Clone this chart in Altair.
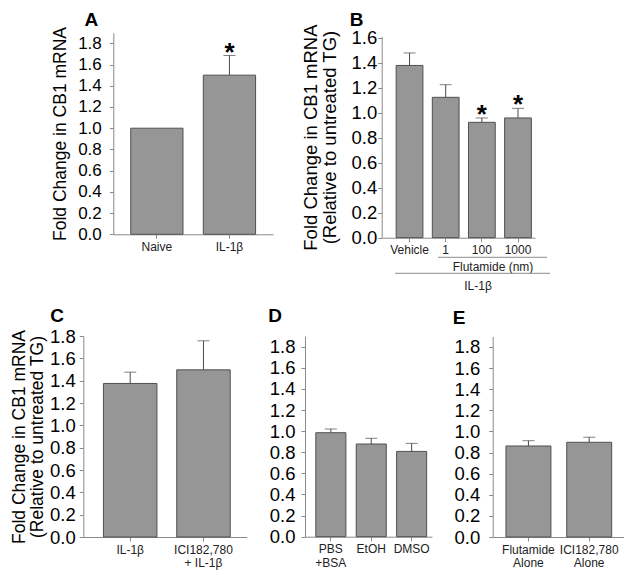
import altair as alt
import numpy as np
import pandas as pd

FONT = "Liberation Sans"

# ---------------- data ----------------
a_cats = ["Naive", "IL-1β"]
a_vals = [1.00, 1.50]
a_errs = [np.nan, 1.685]
a_sig = ["", "*"]

b_cats = ["Vehicle", "1", "100", "1000"]
b_vals = [1.378, 1.123, 0.923, 0.958]
b_errs = [1.478, 1.224, 0.958, 1.035]
b_sig = ["", "", "*", "*"]

c_cats = ["IL-1β", "ICI182,780\n+ IL-1β"]
c_vals = [1.375, 1.497]
c_errs = [1.476, 1.757]
c_sig = ["", ""]

d_cats = ["PBS\n+BSA", "EtOH", "DMSO"]
d_vals = [0.985, 0.878, 0.808]
d_errs = [1.020, 0.932, 0.884]
d_sig = ["", "", ""]

e_cats = ["Flutamide\nAlone", "ICI182,780\nAlone"]
e_vals = [0.862, 0.897]
e_errs = [0.912, 0.945]
e_sig = ["", ""]

ticks_18 = [0.0, 0.2, 0.4, 0.6, 0.8, 1.0, 1.2, 1.4, 1.6, 1.8]
ticks_16 = [0.0, 0.2, 0.4, 0.6, 0.8, 1.0, 1.2, 1.4, 1.6]

title_one = "Fold Change in CB1 mRNA"
title_two = ["Fold Change in CB1 mRNA", "(Relative to untreated TG)"]

W, H = 616, 563

BAR_FILL = "#969696"
BAR_STROKE = "#505050"
ERR_COL = "#4a4a4a"


def panel(cats, vals, errs, sigs, xr, pi, po, al, yd, yr, yvals, ytitle, tpad,
          xoff, yoff, lfs, tfs, lpad, tlh):
    df = pd.DataFrame({"cat": cats, "val": vals, "err": errs, "sig": sigs})
    xs = alt.Scale(domain=cats, range=xr, paddingInner=pi, paddingOuter=po, align=al)
    ys = alt.Scale(domain=yd, range=yr, nice=False, zero=False)
    xax = alt.Axis(orient="bottom", offset=xoff, title=None, labelAngle=0,
                   labelExpr="split(datum.label, '\\n')", labelFontSize=12,
                   labelPadding=3, tickSize=4, labelLineHeight=13.5,
                   labelColor="#222222", grid=False)
    yax = alt.Axis(orient="left", offset=yoff, values=yvals, format=".1f",
                   title=ytitle, titlePadding=tpad, labelFontSize=lfs, tickSize=4,
                   labelPadding=lpad, grid=False, labelOverlap=False,
                   titleFontSize=tfs, titleLineHeight=tlh)
    base = alt.Chart(df)
    bars = base.mark_bar(fill=BAR_FILL, stroke=BAR_STROKE, strokeWidth=1).encode(
        x=alt.X("cat:N", scale=xs, axis=xax, sort=cats),
        y=alt.Y("val:Q", scale=ys, axis=yax),
    )
    eb = base.transform_filter("isValid(datum.err)")
    stem = eb.mark_rule(color=ERR_COL, strokeWidth=1).encode(
        x=alt.X("cat:N", sort=cats),
        y=alt.Y("val:Q"),
        y2="err:Q",
    )
    cap = eb.mark_tick(color=ERR_COL, thickness=1, size=12, orient="horizontal").encode(
        x=alt.X("cat:N", sort=cats),
        y=alt.Y("err:Q"),
    )
    star = eb.mark_text(font=FONT, fontSize=26, fontWeight="bold", color="black",
                        baseline="alphabetic", dy=5).encode(
        x=alt.X("cat:N", sort=cats),
        y=alt.Y("err:Q"),
        text="sig:N",
    )
    return alt.layer(bars, stem, cap, star)


pA = panel(a_cats, a_vals, a_errs, a_sig, [105.3, 265], 0.28, 0.24, 0.5,
           [0, 1.9], [226.3, 24.7], ticks_18, title_one, 8, 226.3 - H, -105.3,
           17, 17.5, 8, 19)
pB = panel(b_cats, b_vals, b_errs, b_sig, [373.7, 527], 0.26, 0.25, 0.8,
           [0, 1.61], [229.7, 28.45], ticks_16, title_two, 11, 229.7 - H, -373.7,
           18.5, 18.5, 1, 19)
pC = panel(c_cats, c_vals, c_errs, c_sig, [75.3, 238.7], 0.27, 0.25, 0.55,
           [0, 1.8], [529, 328], ticks_18, title_two, 3, 529 - H, -75.3,
           18.5, 17.5, 4, 18)
pD = panel(d_cats, d_vals, d_errs, d_sig, [297, 424], 0.256, 0.2, 0.67,
           [0, 1.9], [528.7, 328.1], ticks_18, None, 6, 528.7 - H, -297,
           18.5, 18.5, 6, 19)
pE = panel(e_cats, e_vals, e_errs, e_sig, [484.7, 622], 0.26, 0.26, 0.42,
           [0, 1.9], [529, 328.4], ticks_18, None, 6, 529 - H, -484.7,
           18.5, 18.5, 9, 19)

one = alt.Data(values=[{}])


def letter(t, x, y):
    return alt.Chart(pd.DataFrame({"t": [t]})).mark_text(
        font=FONT, fontSize=19, fontWeight="bold", color="black",
        align="center", baseline="alphabetic").encode(
        text="t:N", x=alt.value(x), y=alt.value(y))


def hline(x1, x2, y):
    return alt.Chart(one).mark_rule(color="#8c8c8c", strokeWidth=1).encode(
        x=alt.value(x1), x2=alt.value(x2), y=alt.value(y))


def label(t, x, y):
    return alt.Chart(pd.DataFrame({"t": [t]})).mark_text(
        font=FONT, fontSize=12, color="#222222", align="center",
        baseline="middle").encode(text="t:N", x=alt.value(x), y=alt.value(y))


annots = [
    letter("A", 83.3, 17.5),
    letter("B", 348.7, 17.5),
    letter("C", 49, 314.3),
    letter("D", 267, 314),
    letter("E", 451, 316),
    hline(430, 539, 249.3),
    label("Flutamide (nm)", 485, 258.7),
    hline(387, 542, 265.3),
    label("IL-1β", 470, 277.7),
]

chart = alt.layer(pA, pB, pC, pD, pE, *annots).resolve_scale(
    x="independent", y="independent"
).properties(
    width=W, height=H, padding=0, autosize=alt.AutoSizeParams(type="none")
).configure_view(stroke=None).configure_axis(
    domainColor="#8a8a8a", tickColor="#8a8a8a", domainWidth=1, tickWidth=1,
    labelFont=FONT, titleFont=FONT, titleFontWeight="normal",
    titleColor="black", labelColor="black",
)

chart.save("out.html", embed_options={"renderer": "svg", "actions": False})
